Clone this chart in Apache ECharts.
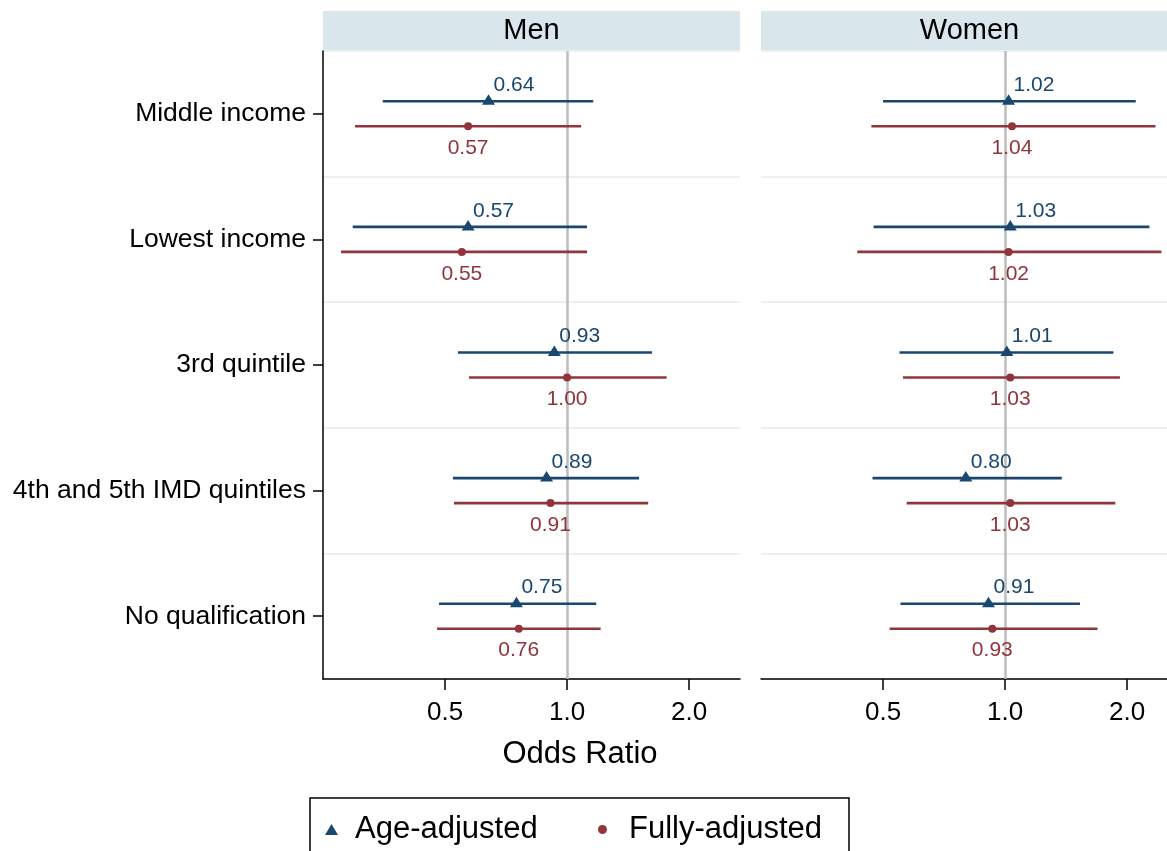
<!DOCTYPE html>
<html>
<head>
<meta charset="utf-8">
<script src="https://cdn.jsdelivr.net/npm/echarts@6/dist/echarts.min.js"></script>
<style>
html,body{margin:0;padding:0;background:#fff;}
#chart{width:1167px;height:851px;}
</style>
</head>
<body>
<div id="chart"></div>
<script>
// ---- data ----
var categories = ['Middle income', 'Lowest income', '3rd quintile', '4th and 5th IMD quintiles', 'No qualification'];
var panels = ['Men', 'Women'];
var tickValues = [0.5, 1, 2];

var menAgeOR  = [0.64, 0.57, 0.93, 0.89, 0.75];
var menAgeLo  = [0.351, 0.296, 0.538, 0.523, 0.483];
var menAgeHi  = [1.16, 1.12, 1.62, 1.505, 1.18];
var menFullOR = [0.57, 0.55, 1.00, 0.91, 0.76];
var menFullLo = [0.300, 0.277, 0.573, 0.526, 0.478];
var menFullHi = [1.083, 1.12, 1.76, 1.585, 1.21];

var womenAgeOR  = [1.02, 1.03, 1.01, 0.80, 0.91];
var womenAgeLo  = [0.50, 0.474, 0.549, 0.471, 0.552];
var womenAgeHi  = [2.10, 2.27, 1.85, 1.38, 1.53];
var womenFullOR = [1.04, 1.02, 1.03, 1.03, 0.93];
var womenFullLo = [0.468, 0.432, 0.56, 0.572, 0.519];
var womenFullHi = [2.35, 2.43, 1.92, 1.87, 1.69];

// ---- styling ----
var FONT = '"Liberation Sans", Arial, Helvetica, sans-serif';
var BLUE = '#1a476f';
var RED = '#90353b';
var STRIP = '#d9e6ec';
var GRIDLINE = '#e9f1f3';

function rows(orArr, loArr, hiArr) {
  return orArr.map(function (v, i) { return [i, v, loArr[i], hiArr[i]]; });
}

function makeRenderer(kind, color) {
  return function (params, api) {
    var idx = api.value(0);
    var band = api.size([1, 1])[1];
    var off = (kind === 'age' ? -0.0995 : 0.0995) * band;
    var p = api.coord([api.value(1), idx]);
    var a = api.coord([api.value(2), idx]);
    var b = api.coord([api.value(3), idx]);
    var y = p[1] + off;
    var txt = api.value(1).toFixed(2);
    var children = [{
      type: 'line',
      shape: { x1: a[0], y1: y, x2: b[0], y2: y },
      style: { stroke: color, lineWidth: 2.6 }
    }];
    if (kind === 'age') {
      children.push({
        type: 'polygon',
        shape: { points: [[p[0], y - 7], [p[0] - 6.5, y + 3.5], [p[0] + 6.5, y + 3.5]] },
        style: { fill: color }
      });
      children.push({
        type: 'text',
        style: { text: txt, x: p[0] + 5, y: y - 16, align: 'left', verticalAlign: 'middle',
                 textAlign: 'left', textVerticalAlign: 'middle',
                 fontSize: 21, fontFamily: FONT, fill: color }
      });
    } else {
      children.push({
        type: 'circle',
        shape: { cx: p[0], cy: y, r: 4 },
        style: { fill: color }
      });
      children.push({
        type: 'text',
        style: { text: txt, x: p[0], y: y + 22, align: 'center', verticalAlign: 'middle',
                 textAlign: 'center', textVerticalAlign: 'middle',
                 fontSize: 21, fontFamily: FONT, fill: color }
      });
    }
    return { type: 'group', children: children };
  };
}

function xAxisFor(gi) {
  return {
    type: 'log', logBase: 2, gridIndex: gi, min: 0.25, max: 2.67,
    axisLine: { show: true, lineStyle: { color: '#000', width: 1.5 } },
    axisTick: { show: true, customValues: tickValues, length: 11, lineStyle: { color: '#000', width: 1.5 } },
    axisLabel: { customValues: tickValues, margin: 21, fontSize: 26, color: '#000', fontFamily: FONT,
                 formatter: function (v) { return Number(v).toFixed(1); } },
    splitLine: { show: false },
    minorTick: { show: false }, minorSplitLine: { show: false }
  };
}

function yAxisFor(gi, showAxis) {
  return {
    type: 'category', gridIndex: gi, data: categories, inverse: true, boundaryGap: true,
    axisLine: { show: showAxis, lineStyle: { color: '#000', width: 1.5 } },
    axisTick: { show: showAxis, alignWithLabel: true, length: 10, lineStyle: { color: '#000', width: 1.5 } },
    axisLabel: { show: showAxis, margin: 17, fontSize: 26.5, color: '#000', fontFamily: FONT, interval: 0 },
    splitLine: { show: true, interval: 0, lineStyle: { color: GRIDLINE, width: 2 } }
  };
}

function refLine() {
  return {
    silent: true, symbol: 'none', z: 1,
    label: { show: false },
    lineStyle: { color: '#bdbdbd', width: 2.5, type: 'solid' },
    emphasis: { disabled: true },
    data: [{ xAxis: 1 }]
  };
}

function customSeries(name, gi, data, kind, color, withRef) {
  var s = {
    type: 'custom', name: name, xAxisIndex: gi, yAxisIndex: gi,
    data: data, encode: { x: [1, 2, 3], y: 0 },
    itemStyle: { color: color },
    renderItem: makeRenderer(kind, color),
    z: 3, silent: true
  };
  if (withRef) s.markLine = refLine();
  return s;
}

var chart = echarts.init(document.getElementById('chart'), null, { renderer: 'canvas' });

var gridW = 417, gridTop = 51, gridH = 628;
var gridLefts = [323, 761];

var option = {
  backgroundColor: '#fff',
  animation: false,
  textStyle: { fontFamily: FONT },
  grid: gridLefts.map(function (l) {
    return { left: l, top: gridTop, width: gridW, height: gridH, containLabel: false, outerBoundsMode: 'none' };
  }),
  xAxis: [xAxisFor(0), xAxisFor(1)],
  yAxis: [yAxisFor(0, true), yAxisFor(1, false)],
  legend: [
    {
      data: [{ name: 'Age-adjusted', icon: 'triangle', itemStyle: { color: BLUE } }],
      left: 325, top: 814, itemWidth: 13, itemHeight: 11, padding: 0,
      selectedMode: false,
      textStyle: { fontSize: 31, color: '#000', fontFamily: FONT, padding: [0, 0, 0, 12] }
    },
    {
      data: [{ name: 'Fully-adjusted', icon: 'circle', itemStyle: { color: RED } }],
      left: 598, top: 814, itemWidth: 9, itemHeight: 9, padding: 0,
      selectedMode: false,
      textStyle: { fontSize: 31, color: '#000', fontFamily: FONT, padding: [0, 0, 0, 17] }
    }
  ],
  graphic: [
    { type: 'rect', shape: { x: gridLefts[0], y: 11, width: gridW, height: 40 }, style: { fill: STRIP }, silent: true },
    { type: 'rect', shape: { x: gridLefts[1], y: 11, width: gridW, height: 40 }, style: { fill: STRIP }, silent: true },
    { type: 'text', x: gridLefts[0] + gridW / 2, y: 31,
      style: { text: panels[0], align: 'center', verticalAlign: 'middle', textAlign: 'center', textVerticalAlign: 'middle',
               fontSize: 29, fontFamily: FONT, fill: '#000' }, silent: true },
    { type: 'text', x: gridLefts[1] + gridW / 2, y: 31,
      style: { text: panels[1], align: 'center', verticalAlign: 'middle', textAlign: 'center', textVerticalAlign: 'middle',
               fontSize: 29, fontFamily: FONT, fill: '#000' }, silent: true },
    { type: 'text', x: 580, y: 754,
      style: { text: 'Odds Ratio', align: 'center', verticalAlign: 'middle', textAlign: 'center', textVerticalAlign: 'middle',
               fontSize: 31, fontFamily: FONT, fill: '#000' }, silent: true },
    { type: 'rect', shape: { x: 310, y: 798, width: 539, height: 70 },
      style: { fill: 'none', stroke: '#000', lineWidth: 1.5 }, silent: true }
  ],
  series: [
    customSeries('Age-adjusted', 0, rows(menAgeOR, menAgeLo, menAgeHi), 'age', BLUE, true),
    customSeries('Fully-adjusted', 0, rows(menFullOR, menFullLo, menFullHi), 'full', RED, false),
    customSeries('Age-adjusted', 1, rows(womenAgeOR, womenAgeLo, womenAgeHi), 'age', BLUE, true),
    customSeries('Fully-adjusted', 1, rows(womenFullOR, womenFullLo, womenFullHi), 'full', RED, false)
  ]
};

chart.setOption(option);
</script>
</body>
</html>
